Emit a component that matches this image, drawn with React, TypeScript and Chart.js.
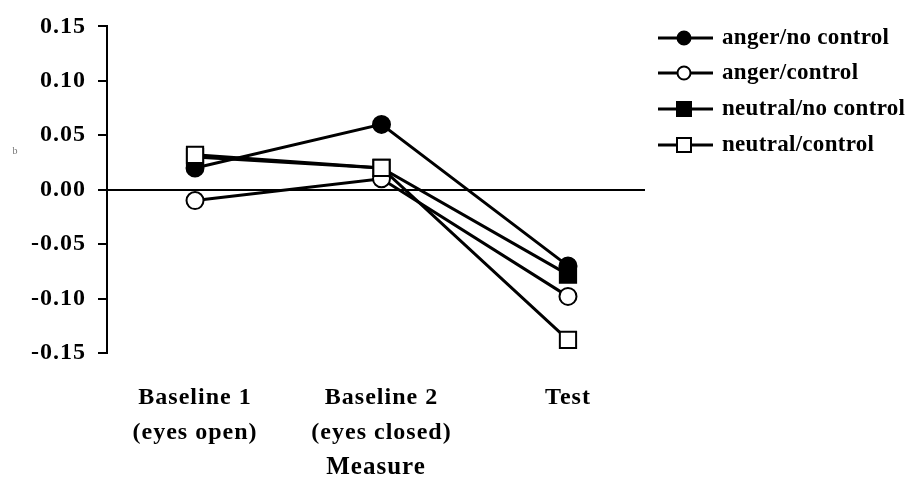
import React, { useEffect, useRef } from 'react';
import { Chart, registerables } from 'chart.js';

Chart.register(...registerables);

const categories: string[][] = [
  ['Baseline 1', '(eyes open)'],
  ['Baseline 2', '(eyes closed)'],
  ['Test'],
];
const seriesNames = ['anger/no control', 'anger/control', 'neutral/no control', 'neutral/control'];
const angerNoControl = [0.02, 0.06, -0.07];
const angerControl = [-0.01, 0.01, -0.098];
const neutralNoControl = [0.03, 0.02, -0.078];
const neutralControl = [0.032, 0.02, -0.138];
const yTicks = [-0.15, -0.1, -0.05, 0, 0.05, 0.1, 0.15];
const xTitle = 'Measure';
const yTitle = 'b';

const FONT = 'Liberation Serif';

type Style = { shape: 'circle' | 'rect'; filled: boolean };
const styles: Style[] = [
  { shape: 'circle', filled: true },
  { shape: 'circle', filled: false },
  { shape: 'rect', filled: true },
  { shape: 'rect', filled: false },
];

export default function App() {
  const ref = useRef<HTMLCanvasElement | null>(null);
  useEffect(() => {
    if (!ref.current) return;
    const values = [angerNoControl, angerControl, neutralNoControl, neutralControl];
    const datasets = values.map((vals, i) => {
      const st = styles[i];
      return {
        label: seriesNames[i],
        data: vals.map((v, j) => ({ x: j, y: v })),
        borderColor: '#000',
        borderWidth: 3,
        backgroundColor: st.filled ? '#000' : '#fff',
        pointBackgroundColor: st.filled ? '#000' : '#fff',
        pointBorderColor: '#000',
        pointBorderWidth: 2,
        pointStyle: st.shape,
        pointRadius: st.shape === 'rect' ? 11.5 : 8.5,
        tension: 0,
        order: 3 - i,
      };
    });

    const spacing = {
      id: 'spacing',
      beforeUpdate(chart: any) {
        (chart.ctx as any).letterSpacing = '1px';
      },
      beforeDraw(chart: any) {
        (chart.ctx as any).letterSpacing = '1px';
      },
    };

    const overlay = {
      id: 'overlay',
      afterDraw(chart: any) {
        const ctx = chart.ctx as CanvasRenderingContext2D;
        ctx.save();
        const rowsY = [38, 73, 109, 145];
        seriesNames.forEach((name, i) => {
          const y = rowsY[i];
          ctx.strokeStyle = '#000';
          ctx.lineWidth = 3;
          ctx.beginPath();
          ctx.moveTo(658, y);
          ctx.lineTo(713, y);
          ctx.stroke();
          const st = styles[i];
          ctx.fillStyle = st.filled ? '#000' : '#fff';
          ctx.lineWidth = 2;
          ctx.beginPath();
          if (st.shape === 'circle') {
            ctx.arc(684, y, 6.5, 0, Math.PI * 2);
          } else {
            ctx.rect(677, y - 7, 14, 14);
          }
          ctx.fill();
          ctx.stroke();
          (ctx as any).letterSpacing = '0.3px';
          ctx.fillStyle = '#000';
          ctx.font = `bold 23px "${FONT}"`;
          ctx.textAlign = 'left';
          ctx.textBaseline = 'middle';
          ctx.fillText(name, 722, y);
        });
        (ctx as any).letterSpacing = '0px';
        ctx.fillStyle = '#777';
        ctx.font = `10px "${FONT}"`;
        ctx.textAlign = 'center';
        ctx.textBaseline = 'middle';
        ctx.fillText(yTitle, 15, 151);
        ctx.restore();
      },
    };

    const chart = new Chart(ref.current, {
      type: 'line',
      data: { datasets: datasets as any },
      options: {
        animation: false,
        responsive: false,
        layout: { padding: { top: 21, right: 267, left: 0, bottom: 0 } },
        plugins: { legend: { display: false }, tooltip: { enabled: false } },
        scales: {
          x: {
            type: 'linear',
            min: -0.472,
            max: 2.413,
            grid: { display: false },
            border: { display: false },
            afterBuildTicks: (scale: any) => {
              scale.ticks = categories.map((_, i) => ({ value: i }));
            },
            afterFit: (scale: any) => {
              scale.height = 126;
            },
            ticks: {
              autoSkip: false,
              maxRotation: 0,
              padding: 19,
              color: '#000',
              font: { family: FONT, weight: 'bold', size: 24, lineHeight: 1.46 },
              callback: (v: any) => categories[Math.round(Number(v))] ?? '',
            },
            title: {
              display: true,
              text: xTitle,
              color: '#000',
              font: { family: FONT, weight: 'bold', size: 25, lineHeight: 0.9 },
              padding: { top: 0, bottom: 0 },
            },
          },
          y: {
            type: 'linear',
            min: -0.15,
            max: 0.15,
            afterBuildTicks: (scale: any) => {
              scale.ticks = yTicks.map((v) => ({ value: v }));
            },
            afterFit: (scale: any) => {
              scale.width = 107;
            },
            border: { display: true, color: '#000', width: 2 },
            grid: {
              drawOnChartArea: true,
              drawTicks: true,
              tickLength: 9,
              tickWidth: 2,
              tickColor: '#000',
              lineWidth: 2,
              color: (c: any) => (c.tick && c.tick.value === 0 ? '#000' : 'rgba(0,0,0,0)'),
            },
            ticks: {
              padding: 12,
              color: '#000',
              font: { family: FONT, weight: 'bold', size: 24 },
              callback: (v: any) => Number(v).toFixed(2),
            },
          },
        },
      },
      plugins: [spacing, overlay],
    });
    return () => chart.destroy();
  }, []);

  return (
    <div style={{ position: 'fixed', left: 0, top: 0, width: 912, height: 479, background: '#fff' }}>
      <canvas ref={ref} width={912} height={479} style={{ display: 'block' }} />
    </div>
  );
}
